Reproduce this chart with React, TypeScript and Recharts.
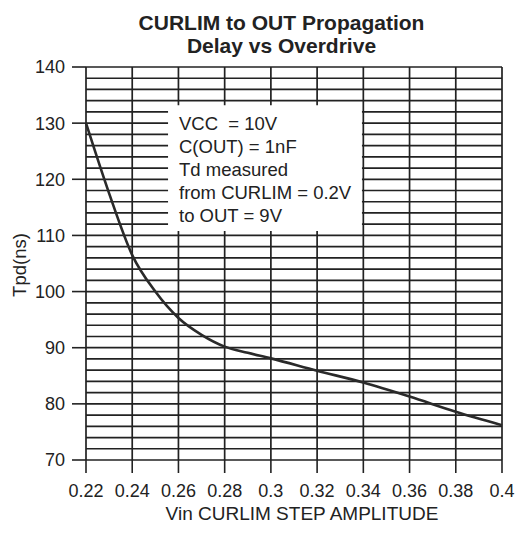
import React from 'react';
import { LineChart, Line, XAxis, YAxis, CartesianGrid, ReferenceArea } from 'recharts';

const vinSteps = [0.22, 0.23, 0.24, 0.25, 0.26, 0.27, 0.28, 0.29, 0.3, 0.32, 0.34, 0.36, 0.38, 0.4];
const tpdNs = [130, 117.5, 106.5, 100, 95.3, 92.3, 90.2, 89.1, 88.1, 85.9, 83.8, 81.3, 78.6, 76.2];

const xTicks = [0.22, 0.24, 0.26, 0.28, 0.3, 0.32, 0.34, 0.36, 0.38, 0.4];
const yGridTicks = [70, 72, 74, 76, 78, 80, 82, 84, 86, 88, 90, 92, 94, 96, 98, 100, 102, 104, 106, 108, 110,
  112, 114, 116, 118, 120, 122, 124, 126, 128, 130, 132, 134, 136, 138, 140];
const yLabelTicks = [70, 80, 90, 100, 110, 120, 130, 140];

const titleLines = ['CURLIM to OUT Propagation', 'Delay vs Overdrive'];
const noteLines = ['VCC  = 10V', 'C(OUT) = 1nF', 'Td measured', 'from CURLIM = 0.2V', 'to OUT = 9V'];
const xAxisTitle = 'Vin CURLIM STEP AMPLITUDE';
const yAxisTitle = 'Tpd(ns)';

const data = vinSteps.map((v, i) => ({ vin: v, tpd: tpdNs[i] }));

const FONT = '"Liberation Sans", Arial, Helvetica, sans-serif';
const INK = '#222';

const YTick = (props: any) => {
  const { x, y, payload } = props;
  const v = payload.value;
  if (!yLabelTicks.includes(v)) return <g />;
  return (
    <g>
      <line x1={x + 7} x2={x + 21} y1={y} y2={y} stroke={INK} strokeWidth={1.6} />
      <text x={x} y={y} dy="0.36em" textAnchor="end" fontSize={18} fontFamily={FONT} fill={INK}>
        {v}
      </text>
    </g>
  );
};

export default function App() {
  return (
    <div style={{ position: 'absolute', left: 0, top: 0, width: 516, height: 533, background: '#fff' }}>
      <LineChart width={516} height={533} data={data} margin={{ top: 67, right: 14, bottom: 0, left: 0 }}>
        <CartesianGrid stroke={INK} strokeWidth={1.7} />
        <XAxis
          dataKey="vin"
          type="number"
          domain={[0.22, 0.4]}
          ticks={xTicks}
          interval={0}
          height={73}
          axisLine={false}
          tickSize={13}
          tickMargin={11}
          tickLine={{ stroke: INK, strokeWidth: 1.6 }}
          tick={{ fontSize: 18, fontFamily: FONT, fill: INK }}
        />
        <YAxis
          type="number"
          domain={[70, 140]}
          ticks={yGridTicks}
          interval={0}
          width={86}
          axisLine={false}
          tickLine={false}
          tickSize={14}
          tickMargin={7}
          tick={<YTick />}
        />
        <ReferenceArea x1={0.2555} x2={0.3394} y1={110.8} y2={133.2} fill="#fff" fillOpacity={1} stroke="none" />
        <Line
          dataKey="tpd"
          type="monotone"
          stroke="#2a2a2a"
          strokeWidth={2.6}
          dot={false}
          isAnimationActive={false}
        />
      </LineChart>
      <svg width={516} height={533} style={{ position: 'absolute', left: 0, top: 0, pointerEvents: 'none' }}>
        <g fontFamily={FONT} fill={INK}>
          <text x={281.5} y={30} textAnchor="middle" fontSize={21} fontWeight="bold">{titleLines[0]}</text>
          <text x={281.5} y={52.5} textAnchor="middle" fontSize={21} fontWeight="bold">{titleLines[1]}</text>
          {noteLines.map((t, i) => (
            <text key={i} x={179} y={130 + i * 23} fontSize={18.5} style={{ whiteSpace: 'pre' }}>{t}</text>
          ))}
          <text x={302} y={520} textAnchor="middle" fontSize={19}>{xAxisTitle}</text>
          <text x={19} y={265} textAnchor="middle" dominantBaseline="central" fontSize={18.5}
            transform="rotate(-90 19 265)">{yAxisTitle}</text>
        </g>
      </svg>
    </div>
  );
}
